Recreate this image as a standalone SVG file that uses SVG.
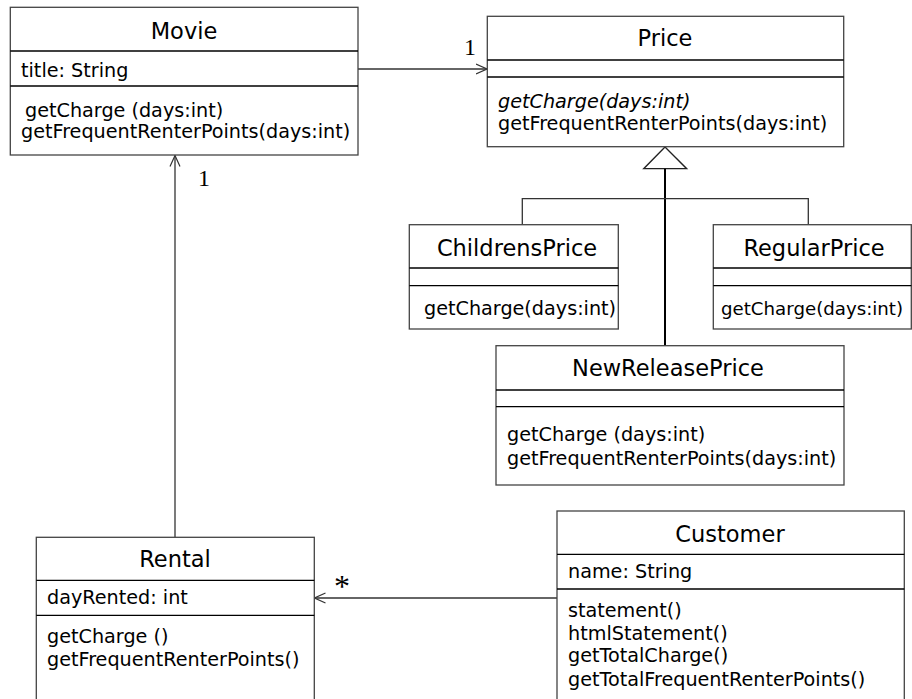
<svg xmlns="http://www.w3.org/2000/svg" width="912" height="699" viewBox="0 0 912 699">
<style>
.box{fill:#fff;stroke:#444;stroke-width:1.3}
.div{stroke:#000;stroke-width:1.3}
.t{font-family:"DejaVu Sans",Verdana,sans-serif;font-size:22.5px;fill:#000;text-anchor:middle}
.m{font-family:"DejaVu Sans",Verdana,sans-serif;font-size:19.2px;fill:#000}
.it{font-style:italic}
.lbl{font-family:"Liberation Serif","Times New Roman",serif;font-size:24px;fill:#000}
.ast{font-family:"Liberation Serif","Times New Roman",serif;font-size:32px;fill:#000}
.c{fill:none;stroke:#333;stroke-width:1.3}
</style>
<defs>
<marker id="open" viewBox="0 0 12 12" refX="11" refY="6" markerWidth="12" markerHeight="12" markerUnits="userSpaceOnUse" orient="auto">
<path d="M0,1 L11,6 L0,11" fill="none" stroke="#333" stroke-width="1.2"/>
</marker>
</defs>
<g id="connectors">
<line class="c" x1="358" y1="69" x2="487" y2="69" marker-end="url(#open)"/>
<line class="c" x1="175" y1="537" x2="175" y2="155.5" marker-end="url(#open)"/>
<line class="c" x1="557" y1="598" x2="314.5" y2="598" marker-end="url(#open)" stroke="#666"/>
<polygon points="665,147 643.7,168.7 686.7,168.7" fill="#fff" stroke="#222" stroke-width="1.3"/>
<line x1="665" y1="168.7" x2="665" y2="345.7" stroke="#000" stroke-width="2"/>
<polyline class="c" points="522.3,224.7 522.3,198.7 808.3,198.7 808.3,224.7" stroke="#000"/>
<text class="lbl" x="464" y="55">1</text>
<text class="lbl" x="198" y="186">1</text>
<text class="ast" x="334" y="597">*</text>
</g>
<g id="movie">
<rect class="box" x="10.3" y="7.3" width="347.7" height="147.7"/>
<line class="div" x1="10.3" y1="51" x2="358" y2="51"/>
<line class="div" x1="10.3" y1="86" x2="358" y2="86"/>
<text class="t" x="184" y="39">Movie</text>
<text class="m" x="21" y="77">title: String</text>
<text class="m" x="25" y="117">getCharge (days:int)</text>
<text class="m" x="21" y="138">getFrequentRenterPoints(days:int)</text>
</g>
<g id="price">
<rect class="box" x="487.3" y="16.3" width="356.4" height="130.4"/>
<line class="div" x1="487.3" y1="60" x2="843.7" y2="60"/>
<line class="div" x1="487.3" y1="77" x2="843.7" y2="77"/>
<text class="t" x="665" y="46">Price</text>
<text class="m it" x="498" y="108">getCharge(days:int)</text>
<text class="m" x="498" y="130">getFrequentRenterPoints(days:int)</text>
</g>
<g id="childrensprice">
<rect class="box" x="409.3" y="224.7" width="209" height="104.3"/>
<line class="div" x1="409.3" y1="268" x2="618.3" y2="268"/>
<line class="div" x1="409.3" y1="285.7" x2="618.3" y2="285.7"/>
<text class="t" x="517" y="256">ChildrensPrice</text>
<text class="m" x="424" y="315">getCharge(days:int)</text>
</g>
<g id="regularprice">
<rect class="box" x="713.3" y="224.7" width="198" height="104.3"/>
<line class="div" x1="713.3" y1="268" x2="911.3" y2="268"/>
<line class="div" x1="713.3" y1="285.7" x2="911.3" y2="285.7"/>
<text class="t" x="814" y="256">RegularPrice</text>
<text class="m" x="721" y="315" style="font-size:18.2px">getCharge(days:int)</text>
</g>
<g id="newreleaseprice">
<rect class="box" x="496" y="345.7" width="348" height="139.3"/>
<line class="div" x1="496" y1="390" x2="844" y2="390"/>
<line class="div" x1="496" y1="406.7" x2="844" y2="406.7"/>
<text class="t" x="668" y="376">NewReleasePrice</text>
<text class="m" x="507" y="441">getCharge (days:int)</text>
<text class="m" x="507" y="465">getFrequentRenterPoints(days:int)</text>
</g>
<g id="customer">
<rect class="box" x="557" y="511" width="347.3" height="200"/>
<line class="div" x1="557" y1="554.3" x2="904.3" y2="554.3"/>
<line class="div" x1="557" y1="589" x2="904.3" y2="589"/>
<text class="t" x="730" y="542">Customer</text>
<text class="m" x="568" y="578">name: String</text>
<text class="m" x="568" y="617">statement()</text>
<text class="m" x="568" y="640">htmlStatement()</text>
<text class="m" x="568" y="662">getTotalCharge()</text>
<text class="m" x="568" y="686">getTotalFrequentRenterPoints()</text>
</g>
<g id="rental">
<rect class="box" x="36.3" y="537.3" width="278" height="180"/>
<line class="div" x1="36.3" y1="580.3" x2="314.3" y2="580.3"/>
<line class="div" x1="36.3" y1="615.3" x2="314.3" y2="615.3"/>
<text class="t" x="175" y="567">Rental</text>
<text class="m" x="47" y="604">dayRented: int</text>
<text class="m" x="47" y="643">getCharge ()</text>
<text class="m" x="47" y="666">getFrequentRenterPoints()</text>
</g>
</svg>
